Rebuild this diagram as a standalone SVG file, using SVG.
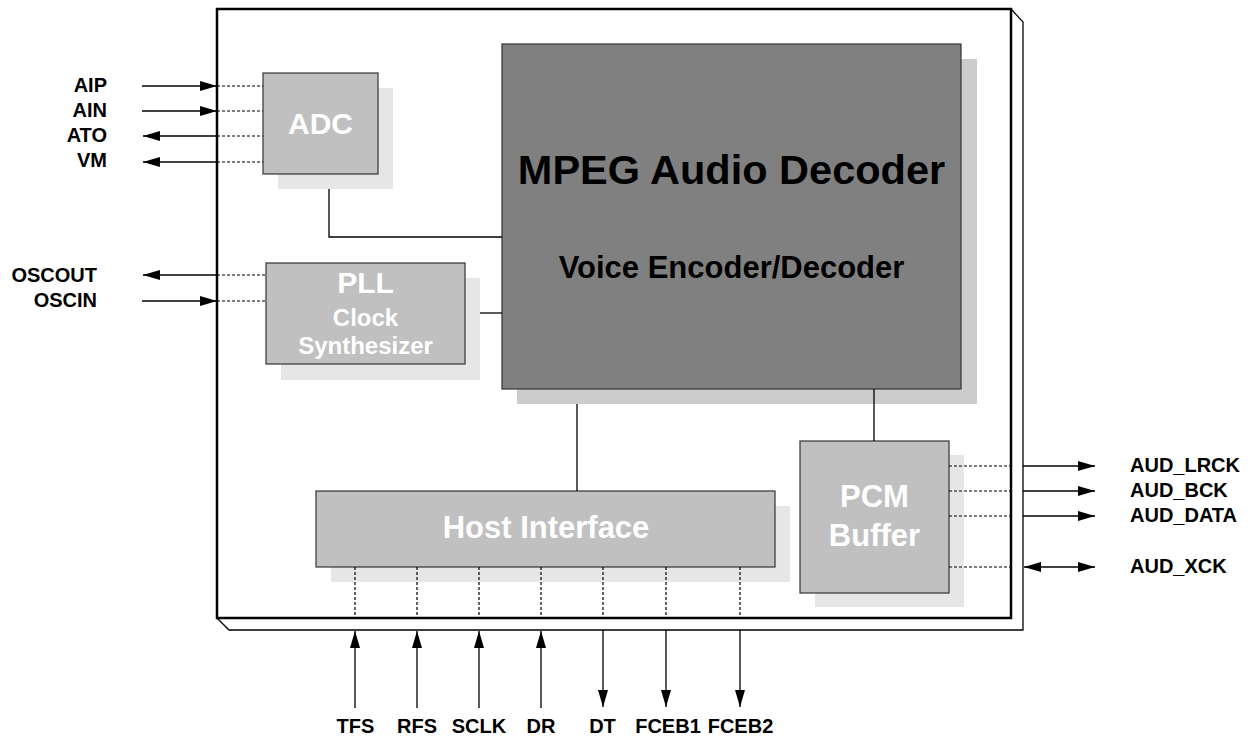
<svg xmlns="http://www.w3.org/2000/svg" width="1256" height="738" viewBox="0 0 1256 738">
<style>
text{font-family:"Liberation Sans",Arial,sans-serif;font-weight:bold}
.lbl{font-size:20px;fill:#000}
.wt{fill:#fff}
.box{fill:#c0c0c0;stroke:#333;stroke-width:1.2}
.sh{fill:#e6e6e6}
.sol{stroke:#000;stroke-width:1.3;fill:none}
.dash{stroke:#000;stroke-width:1.2;stroke-dasharray:3 2;fill:none}
.in{marker-end:url(#ah)}
.out{marker-start:url(#ahs)}
</style>
<defs>
<marker id="ah" markerUnits="userSpaceOnUse" markerWidth="17" markerHeight="10" refX="17" refY="5" orient="auto"><path d="M0,0 L17,5 L0,10 z" fill="#000"/></marker>
<marker id="ahs" markerUnits="userSpaceOnUse" markerWidth="17" markerHeight="10" refX="17" refY="5" orient="auto-start-reverse"><path d="M0,0 L17,5 L0,10 z" fill="#000"/></marker>
</defs>
<rect width="1256" height="738" fill="#fff"/>
<g id="chip">
<polygon points="217,618 229,630 1023,630 1023,22 1011,9" fill="#fff" stroke="#000" stroke-width="1.3"/>
<rect x="217" y="9" width="794" height="609" fill="#fff" stroke="#000" stroke-width="2.5"/>
</g>
<g id="adc">
<rect class="sh" x="278" y="88" width="115" height="101"/>
<rect class="box" x="263" y="73" width="115" height="101"/>
<text class="wt" x="320.5" y="134" font-size="30" text-anchor="middle">ADC</text>
</g>
<g id="pll">
<rect class="sh" x="281" y="278" width="199" height="102"/>
<rect class="box" x="266" y="263" width="199" height="101"/>
<text class="wt" x="365.5" y="293" font-size="30" text-anchor="middle">PLL</text>
<text class="wt" x="365.5" y="326" font-size="24" text-anchor="middle">Clock</text>
<text class="wt" x="365.5" y="354" font-size="24" text-anchor="middle">Synthesizer</text>
</g>
<g id="mpeg">
<rect x="517" y="59" width="460" height="345" fill="#cccccc"/>
<rect x="502" y="44" width="459" height="345" fill="#808080" stroke="#333" stroke-width="1.2"/>
<text x="731.5" y="184" font-size="41.5" text-anchor="middle" fill="#000">MPEG Audio Decoder</text>
<text x="731.5" y="278" font-size="31" text-anchor="middle" fill="#000">Voice Encoder/Decoder</text>
</g>
<g id="host">
<rect class="sh" x="331" y="506" width="459" height="76"/>
<rect class="box" x="316" y="491" width="459" height="76"/>
<text class="wt" x="546" y="538" font-size="31" text-anchor="middle">Host Interface</text>
</g>
<g id="pcm">
<rect class="sh" x="815" y="455" width="149" height="152"/>
<rect class="box" x="800" y="441" width="149" height="152"/>
<text class="wt" x="874.5" y="507" font-size="31" text-anchor="middle">PCM</text>
<text class="wt" x="874.5" y="546" font-size="31" text-anchor="middle">Buffer</text>
</g>
<g id="connectors">
<polyline class="sol" points="329,189 329,237 502,237"/>
<line class="sol" x1="480" y1="313" x2="502" y2="313"/>
<line class="sol" x1="577" y1="404" x2="577" y2="491"/>
<line class="sol" x1="874" y1="389" x2="874" y2="441"/>
<line class="sol in" x1="142" y1="86" x2="217" y2="86"/>
<line class="sol in" x1="142" y1="111" x2="217" y2="111"/>
<line class="sol out" x1="143" y1="136" x2="217" y2="136"/>
<line class="sol out" x1="143" y1="162" x2="217" y2="162"/>
<line class="dash" x1="217" y1="86" x2="263" y2="86"/>
<line class="dash" x1="217" y1="111" x2="263" y2="111"/>
<line class="dash" x1="217" y1="136" x2="263" y2="136"/>
<line class="dash" x1="217" y1="162" x2="263" y2="162"/>
<line class="sol out" x1="143" y1="275" x2="217" y2="275"/>
<line class="sol in" x1="142" y1="301" x2="217" y2="301"/>
<line class="dash" x1="217" y1="275" x2="266" y2="275"/>
<line class="dash" x1="217" y1="301" x2="266" y2="301"/>
<line class="dash" x1="949" y1="466" x2="1011" y2="466"/>
<line class="dash" x1="949" y1="491" x2="1011" y2="491"/>
<line class="dash" x1="949" y1="516" x2="1011" y2="516"/>
<line class="dash" x1="949" y1="567" x2="1011" y2="567"/>
<line class="sol in" x1="1023" y1="466" x2="1095" y2="466"/>
<line class="sol in" x1="1023" y1="491" x2="1095" y2="491"/>
<line class="sol in" x1="1023" y1="516" x2="1095" y2="516"/>
<line class="sol in out" x1="1024" y1="567" x2="1095" y2="567"/>
<line class="dash" x1="355" y1="567" x2="355" y2="618"/>
<line class="dash" x1="417" y1="567" x2="417" y2="618"/>
<line class="dash" x1="479" y1="567" x2="479" y2="618"/>
<line class="dash" x1="541" y1="567" x2="541" y2="618"/>
<line class="dash" x1="603" y1="567" x2="603" y2="618"/>
<line class="dash" x1="666" y1="567" x2="666" y2="618"/>
<line class="dash" x1="740" y1="567" x2="740" y2="618"/>
<line class="sol in" x1="355" y1="708" x2="355" y2="631"/>
<line class="sol in" x1="417" y1="708" x2="417" y2="631"/>
<line class="sol in" x1="479" y1="708" x2="479" y2="631"/>
<line class="sol in" x1="541" y1="708" x2="541" y2="631"/>
<line class="sol in" x1="603" y1="630" x2="603" y2="707"/>
<line class="sol in" x1="666" y1="630" x2="666" y2="707"/>
<line class="sol in" x1="740" y1="630" x2="740" y2="707"/>
</g>
<g id="labels" class="lbl">
<text x="107" y="92" text-anchor="end">AIP</text>
<text x="107" y="117" text-anchor="end">AIN</text>
<text x="107" y="142" text-anchor="end">ATO</text>
<text x="107" y="167" text-anchor="end">VM</text>
<text x="97" y="282" text-anchor="end">OSCOUT</text>
<text x="97" y="307" text-anchor="end">OSCIN</text>
<text x="1130" y="472">AUD_LRCK</text>
<text x="1130" y="497">AUD_BCK</text>
<text x="1130" y="522">AUD_DATA</text>
<text x="1130" y="573">AUD_XCK</text>
<text x="355.5" y="733" text-anchor="middle">TFS</text>
<text x="417" y="733" text-anchor="middle">RFS</text>
<text x="479" y="733" text-anchor="middle">SCLK</text>
<text x="541" y="733" text-anchor="middle">DR</text>
<text x="602.5" y="733" text-anchor="middle">DT</text>
<text x="668" y="733" text-anchor="middle">FCEB1</text>
<text x="740.5" y="733" text-anchor="middle">FCEB2</text>
</g>
</svg>
